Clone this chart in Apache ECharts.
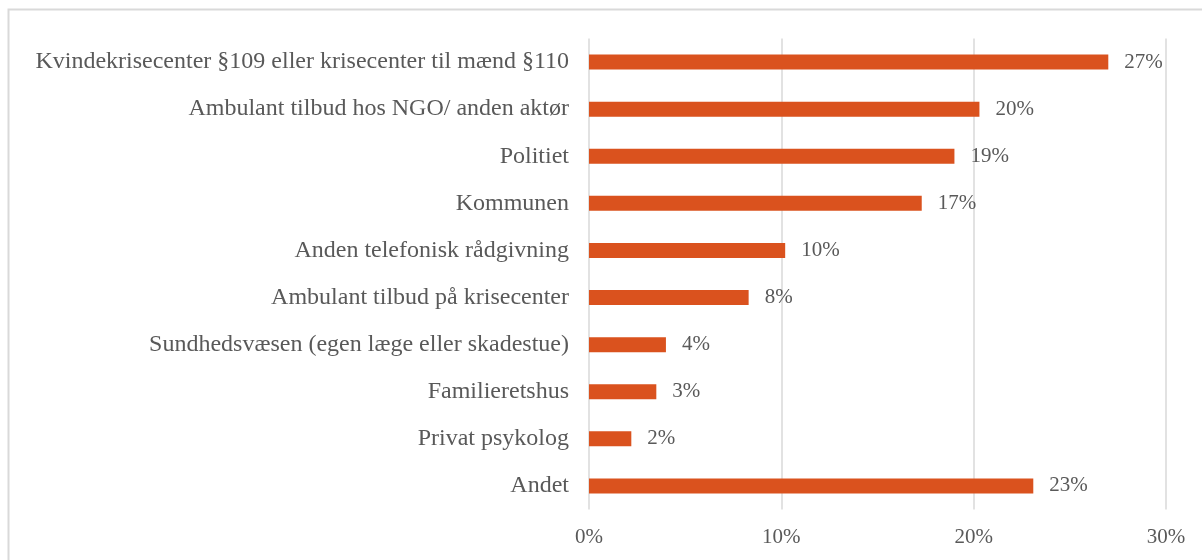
<!DOCTYPE html>
<html>
<head>
<meta charset="utf-8">
<script src="https://cdn.jsdelivr.net/npm/echarts@6/dist/echarts.min.js"></script>
<style>
html,body{margin:0;padding:0;background:#fff;}
#c{width:1202px;height:560px;}
</style>
</head>
<body>
<div id="c"></div>
<script>
var categories = [
  "Kvindekrisecenter §109 eller krisecenter til mænd §110",
  "Ambulant tilbud hos NGO/ anden aktør",
  "Politiet",
  "Kommunen",
  "Anden telefonisk rådgivning",
  "Ambulant tilbud på krisecenter",
  "Sundhedsvæsen (egen læge eller skadestue)",
  "Familieretshus",
  "Privat psykolog",
  "Andet"
];
var values = [27.0, 20.3, 19.0, 17.3, 10.2, 8.3, 4.0, 3.5, 2.2, 23.1];
var valueLabels = ["27%", "20%", "19%", "17%", "10%", "8%", "4%", "3%", "2%", "23%"];
var xTicks = [0, 10, 20, 30];

var font = "'Liberation Serif', 'DejaVu Serif', serif";
var textColor = "#595959";
var chart = echarts.init(document.getElementById('c'), null, {renderer: 'canvas'});
chart.setOption({
  animation: false,
  backgroundColor: '#ffffff',
  graphic: [{
    type: 'rect',
    shape: {x: 8.5, y: 9.5, width: 1400, height: 700},
    style: {fill: 'none', stroke: '#d9d9d9', lineWidth: 2},
    silent: true
  }],
  grid: {left: 589, right: 36, top: 38.5, bottom: 50.5, containLabel: false},
  xAxis: {
    type: 'value',
    min: xTicks[0],
    max: xTicks[xTicks.length - 1],
    interval: 10,
    axisLine: {show: false},
    axisTick: {show: false},
    splitLine: {show: true, lineStyle: {color: '#d9d9d9', width: 1.5}},
    axisLabel: {
      color: textColor, fontFamily: font, fontSize: 21, margin: 17,
      formatter: function (v) { return v + '%'; }
    }
  },
  yAxis: {
    type: 'category',
    inverse: true,
    data: categories,
    axisLabel: {color: textColor, fontFamily: font, fontSize: 24, margin: 20, padding: [3, 0, 0, 0]},
    axisLine: {show: false},
    axisTick: {show: false}
  },
  series: [{
    type: 'bar',
    data: values,
    barWidth: 15,
    itemStyle: {color: '#DA521E'},
    label: {
      show: true,
      position: 'right',
      distance: 16,
      color: textColor,
      fontFamily: font,
      fontSize: 21,
      padding: [2, 0, 0, 0],
      formatter: function (p) { return valueLabels[p.dataIndex]; }
    }
  }]
});
</script>
</body>
</html>
